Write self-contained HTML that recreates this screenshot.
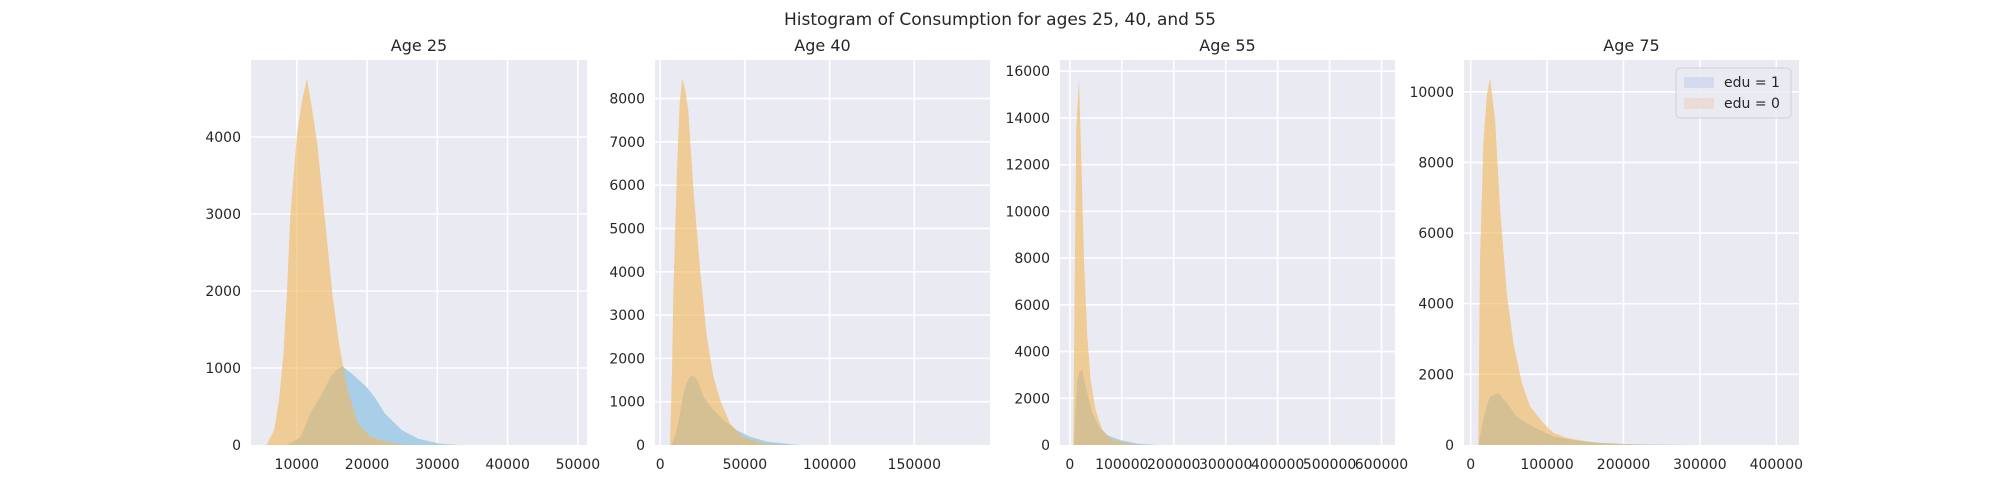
<!DOCTYPE html>
<html><head><meta charset="utf-8">
<style>
html,body{margin:0;padding:0;background:#fff;}
svg{display:block;font-family:"DejaVu Sans","Liberation Sans",sans-serif;}
</style></head>
<body>
<svg id="fig" width="2000" height="500" viewBox="0 0 2000 500">
<text x="1000" y="25" text-anchor="middle" font-size="17" fill="#262626">Histogram of Consumption for ages 25, 40, and 55</text>
</svg>
<script>
// Panel 1 (Age 25)
const p1EduZeroX = [5700,6800,7500,8100,8600,9090,10030,10800,11450,12100,12920,14130,15090,16040,17240,18680,20570,23420,26000];
const p1EduZeroY = [0,200,600,1190,2000,2990,4040,4500,4760,4400,3910,2820,1940,1290,710,280,100,30,0];
const p1EduOneX = [8600,10530,11960,13400,14840,15700,16520,17720,19860,21080,22520,24910,27320,30200,33080];
const p1EduOneY = [0,100,420,630,890,980,1020,935,760,620,410,195,80,20,0];
// Panel 2 (Age 40)
const p2EduZeroX = [5790,7000,7740,9750,11500,13060,14800,16600,19560,23520,27480,31380,35340,41250,49100,60800,72000];
const p2EduZeroY = [0,1800,3450,6170,7900,8460,8200,7720,5930,4070,2520,1580,1040,490,180,40,0];
const p2EduOneX = [6780,9500,11700,13500,15660,18000,20560,23000,25470,31380,37290,45200,53070,62940,76700,82000];
const p2EduOneY = [0,300,730,1150,1430,1600,1580,1400,1115,810,580,340,190,80,20,0];
// Panel 3 (Age 55)
const p3EduZeroX = [6600,9060,12330,17530,21970,27170,33530,39880,49520,62370,78400,104000,135600];
const p3EduZeroY = [0,6500,13600,15700,12200,7920,4640,2780,1500,640,270,100,0];
const p3EduOneX = [7900,11000,14260,18500,23890,33530,43170,56000,72100,97700,130000,168000];
const p3EduOneY = [0,1500,2780,3150,3200,2220,1370,780,420,210,60,0];
// Panel 4 (Age 75)
const p4EduZeroX = [10000,12190,16560,21000,25300,31850,38400,47180,55830,66840,77720,95150,108260,125800,160000,204000,225000];
const p4EduZeroY = [0,5240,8550,9900,10390,9200,6660,4300,2890,1760,1090,620,340,200,70,20,0];
const p4EduOneX = [10000,13000,16560,21000,25300,36200,47180,60300,73400,90800,108260,134500,169500,204400,248000,290000];
const p4EduOneY = [0,350,710,1100,1370,1470,1190,800,620,420,240,140,60,25,10,0];

const titles = ["Age 25","Age 40","Age 55","Age 75"];
const xTicks1 = [10000,20000,30000,40000,50000];
const yTicks1 = [0,1000,2000,3000,4000];
const xTicks2 = [0,50000,100000,150000];
const yTicks2 = [0,1000,2000,3000,4000,5000,6000,7000,8000];
const xTicks3 = [0,100000,200000,300000,400000,500000,600000];
const yTicks3 = [0,2000,4000,6000,8000,10000,12000,14000,16000];
const xTicks4 = [0,100000,200000,300000,400000];
const yTicks4 = [0,2000,4000,6000,8000,10000];

const panels = [
 {l:251,r:587,xmin:3480,xmax:51300,ymax:5000,xt:xTicks1,yt:yTicks1,zx:p1EduZeroX,zy:p1EduZeroY,ox:p1EduOneX,oy:p1EduOneY},
 {l:655,r:990,xmin:-3070,xmax:194700,ymax:8890,xt:xTicks2,yt:yTicks2,zx:p2EduZeroX,zy:p2EduZeroY,ox:p2EduOneX,oy:p2EduOneY},
 {l:1060,r:1395,xmin:-19000,xmax:626000,ymax:16480,xt:xTicks3,yt:yTicks3,zx:p3EduZeroX,zy:p3EduZeroY,ox:p3EduOneX,oy:p3EduOneY},
 {l:1464,r:1799,xmin:-8800,xmax:429700,ymax:10900,xt:xTicks4,yt:yTicks4,zx:p4EduZeroX,zy:p4EduZeroY,ox:p4EduOneX,oy:p4EduOneY}
];
const TOP=60, BOT=445;
const NS="http://www.w3.org/2000/svg";
const svg=document.getElementById('fig');
function mk(tag,attrs,parent){const e=document.createElementNS(NS,tag);for(const k in attrs)e.setAttribute(k,attrs[k]);(parent||svg).appendChild(e);return e;}

panels.forEach((p,i)=>{
  const sx=v=>p.l+(v-p.xmin)/(p.xmax-p.xmin)*(p.r-p.l);
  const sy=v=>BOT-v/p.ymax*(BOT-TOP);
  const g=mk('g',{});
  
  
  const bg=mk('rect',{x:p.l,y:TOP,width:p.r-p.l,height:BOT-TOP,fill:'#eaeaf2'},g);
  
  
  p.xt.forEach(t=>{const x=sx(t);
    const ln=mk('line',{x1:x,x2:x,y1:TOP,y2:BOT,stroke:'#fff','stroke-width':1.6},g);
    
    
    const tx=mk('text',{x:x,y:469,'text-anchor':'middle','font-size':14,fill:'#262626'},g);
    tx.textContent=t;
    
    
  });
  p.yt.forEach(t=>{const y=sy(t);
    if(t>0){const ln=mk('line',{x1:p.l,x2:p.r,y1:y,y2:y,stroke:'#fff','stroke-width':1.6},g);
    
    }
    const tx=mk('text',{x:p.l-10,y:y+5,'text-anchor':'end','font-size':14,fill:'#262626'},g);
    tx.textContent=t;
    
    
  });
  const clip=mk('clipPath',{id:'c'+i},g);
  mk('rect',{x:p.l,y:TOP,width:p.r-p.l,height:BOT-TOP},clip);
  function area(xs,ys){let d='M'+sx(xs[0])+','+BOT;xs.forEach((x,k)=>{d+=' L'+sx(x).toFixed(1)+','+sy(ys[k]).toFixed(1);});d+=' L'+sx(xs[xs.length-1])+','+BOT+' Z';return d;}
  const b=mk('path',{d:area(p.ox,p.oy),fill:'#a9cfe8','clip-path':'url(#c'+i+')'},g);
  
  
  const o=mk('path',{d:area(p.zx,p.zy),fill:'rgb(242,181,89)','fill-opacity':0.6,'clip-path':'url(#c'+i+')'},g);
  
  
  const tt=mk('text',{x:(p.l+p.r)/2,y:51,'text-anchor':'middle','font-size':16,fill:'#262626'},g);
  tt.textContent=titles[i];
  
  
});

// legend
const lg=mk('g',{});


mk('rect',{x:1676,y:68,width:115,height:50,rx:4,fill:'#eaeaf2','fill-opacity':0.8,stroke:'#d0d0d8'},lg);
const e1=mk('rect',{x:1684,y:77,width:30,height:11,fill:'#d5dbee'},lg);


const t1=mk('text',{x:1724,y:87,'font-size':14,fill:'#262626'},lg);t1.textContent='edu = 1';


const e2=mk('rect',{x:1684,y:98,width:30,height:11,fill:'#ecdcd7'},lg);


const t2=mk('text',{x:1724,y:108,'font-size':14,fill:'#262626'},lg);t2.textContent='edu = 0';


</script>
</body></html>
